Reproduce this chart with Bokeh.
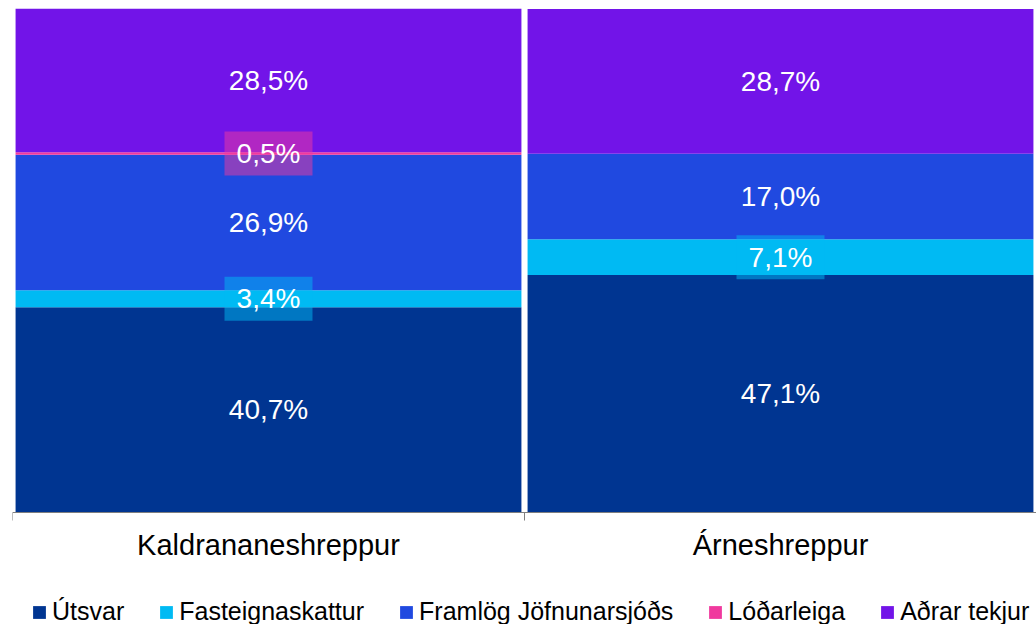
from bokeh.plotting import figure
from bokeh.models import ColumnDataSource, FixedTicker, Legend, LegendItem, Range1d
from bokeh.core.properties import value
from bokeh.embed import file_html
from bokeh.resources import INLINE

categories = ["Kaldrananeshreppur", "Árneshreppur"]
series = ["Útsvar", "Fasteignaskattur", "Framlög Jöfnunarsjóðs", "Lóðarleiga", "Aðrar tekjur"]
utsvar = [40.7, 47.1]
fasteignaskattur = [3.4, 7.1]
framlog = [26.9, 17.0]
lodarleiga = [0.5, 0.0]
adrar = [28.5, 28.7]
colors = ["#003591", "#00BAF3", "#2049E0", "#F0399E", "#7214E8"]
boxed = [False, True, False, True, False]

values = [utsvar, fasteignaskattur, framlog, lodarleiga, adrar]

FONT = "Liberation Sans"

# frame: 1024 x 616 px; bars occupy the top 504 px (0..1), the rest is for labels/legend
p = figure(output_backend="svg", toolbar_location=None,
           frame_width=1024, frame_height=616, width=1036, height=624,
           min_border_left=12, min_border_right=0, min_border_top=8, min_border_bottom=0,
           x_range=Range1d(0, len(categories)), y_range=Range1d(-112 / 504, 1),
           y_axis_location=None)
p.outline_line_color = None
p.xgrid.visible = False
p.ygrid.visible = False
p.background_fill_color = "white"
p.border_fill_color = "white"

xs = [i + 0.5 for i in range(len(categories))]
bottoms = [0.0] * len(categories)
items = []
lx, ly, lt = [], [], []
bx, by, bc = [], [], []
for s, vals, col, bxd in zip(series, values, colors, boxed):
    tops = [b + v / 100.0 for b, v in zip(bottoms, vals)]
    src = ColumnDataSource(dict(x=xs, bottom=bottoms, top=tops))
    r = p.vbar(x="x", bottom="bottom", top="top", width=0.988, source=src,
               fill_color=col, line_color=None)
    items.append(LegendItem(label=s, renderers=[r]))
    for x, b, v in zip(xs, bottoms, vals):
        if v > 0:
            lx.append(x)
            ly.append(b + v / 200.0)
            lt.append(f"{v:.1f}".replace(".", ",") + "%")
            if bxd:
                bx.append(x); by.append(b + v / 200.0); bc.append(col)
    bottoms = tops

p.rect(x=bx, y=by, width=88, height=44, width_units="screen", height_units="screen",
       fill_color=bc, fill_alpha=0.5, line_color=None)
p.text(x=lx, y=ly, text=lt, text_color="white", text_align="center",
       text_baseline="middle", text_font=value(FONT), text_font_size="28px")

ax = p.xaxis[0]
ax.fixed_location = 0
ax.ticker = FixedTicker(ticks=xs, minor_ticks=list(range(len(categories) + 1)))
ax.major_label_overrides = {x: c for x, c in zip(xs, categories)}
ax.major_tick_in = 0
ax.major_tick_out = 0
ax.minor_tick_in = 0
ax.minor_tick_out = 8
ax.minor_tick_line_color = "#7f7f7f"
ax.axis_line_color = "#7f7f7f"
ax.major_label_text_font = FONT
ax.major_label_text_font_size = "29px"
ax.major_label_text_color = "black"
ax.major_label_standoff = 8

legend = Legend(items=items, orientation="horizontal", location=(19, -2),
                label_text_font=FONT, label_text_font_size="25px", label_text_color="black",
                glyph_width=16, glyph_height=16, label_standoff=5, spacing=34,
                padding=0, margin=0, border_line_alpha=0, background_fill_alpha=0)
p.add_layout(legend)

open("out.html", "w").write(file_html(p, INLINE))
